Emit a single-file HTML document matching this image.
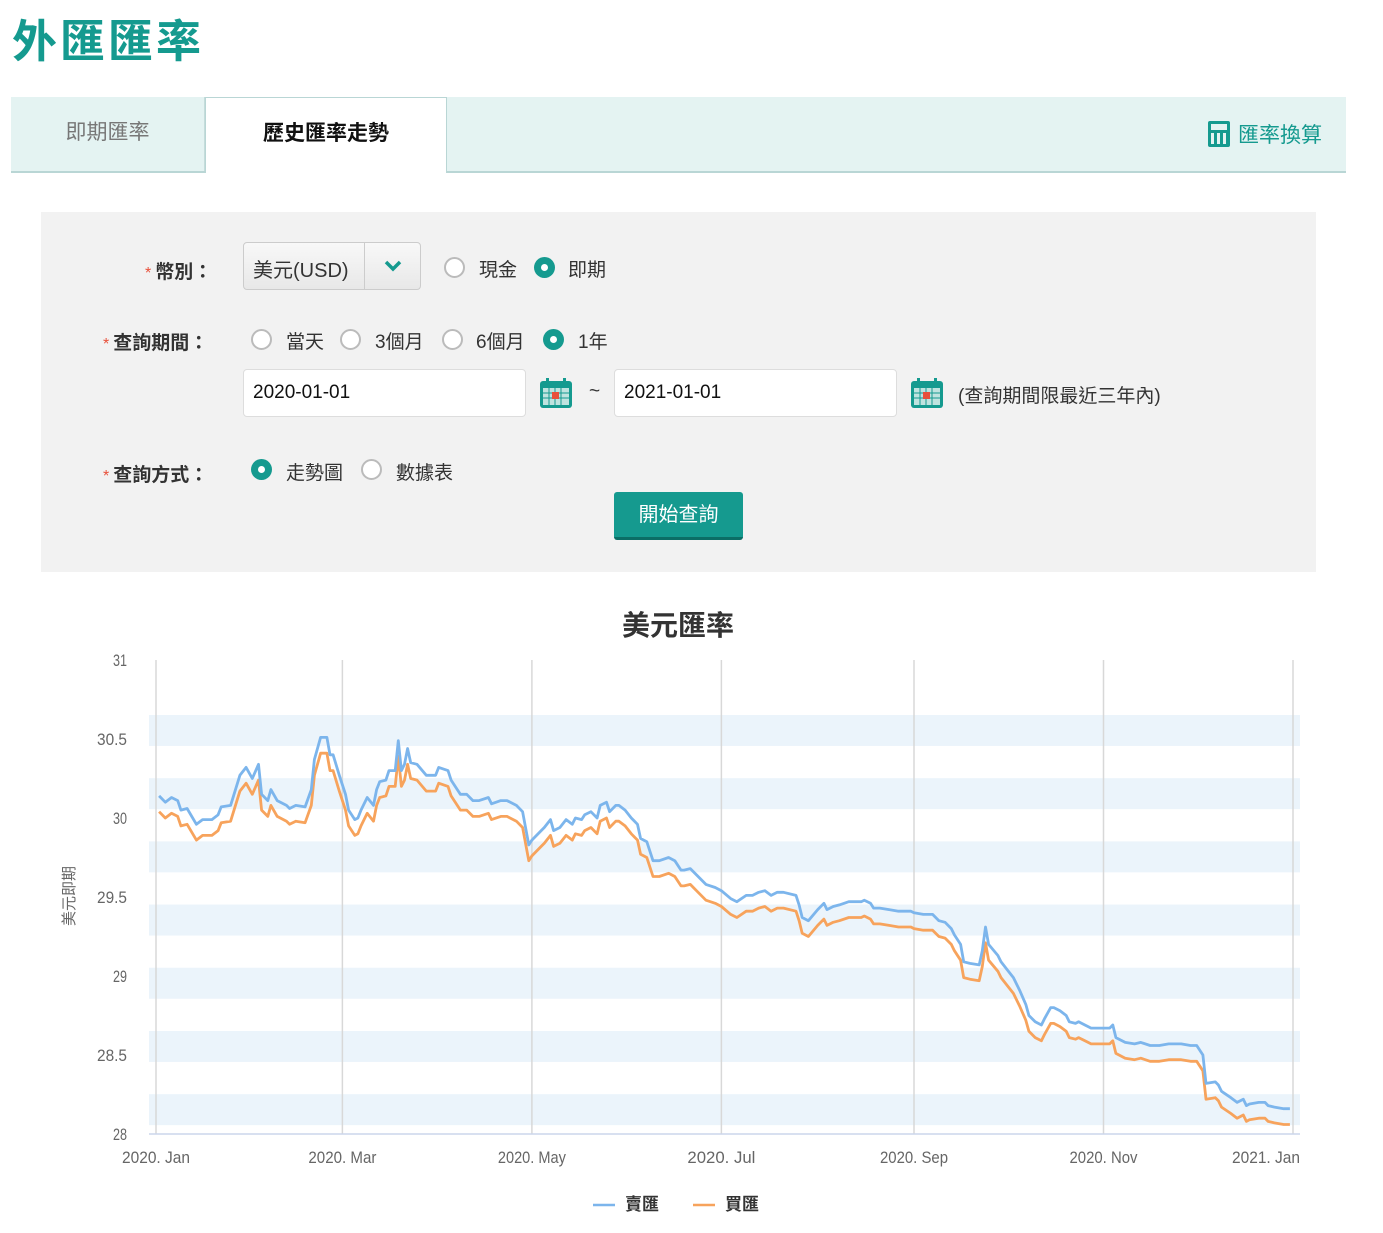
<!DOCTYPE html>
<html><head><meta charset="utf-8">
<style>
*{box-sizing:border-box;margin:0;padding:0}
body{width:1383px;height:1233px;background:#fff;font-family:"Liberation Sans","Noto Sans CJK TC",sans-serif;position:relative;overflow:hidden;color:#333}
.abs{position:absolute}
.title{left:12px;top:5px;font-size:45px;font-weight:bold;color:#159a8f;letter-spacing:3px}
.tabbar{left:11px;top:97px;width:1335px;height:76px;background:#e4f3f2;border-bottom:2px solid #b9d6d5}
.tab1{left:0;top:0;width:194px;height:74px;line-height:72px;text-align:center;font-size:21px;color:#777;border-right:1px solid #c5dcdb}
.tab2{left:194px;top:0;width:242px;height:76px;background:#fff;border:1px solid #b9d6d5;border-bottom:none;line-height:72px;text-align:center;font-size:21px;font-weight:bold;color:#111}
.conv{right:24px;top:22px;font-size:21px;color:#159a8f}
.panel{left:41px;top:212px;width:1275px;height:360px;background:#f2f2f2}
.lbl{font-size:19px;font-weight:bold;color:#333}
.lbl b{color:#e8503a;font-weight:normal;margin-right:4px;font-size:16px}
.radio{width:21px;height:21px;border-radius:50%;border:2px solid #bbb;background:#fff}
.radio.on{border:none;background:#159a8f}
.radio.on::after{content:"";position:absolute;left:7px;top:7px;width:7px;height:7px;border-radius:50%;background:#fff}
.rt{font-size:19px;color:#333}
.inp{background:#fff;border:1px solid #ddd;border-radius:4px;font-size:19px;color:#111;padding-left:9px;line-height:46px}
.cal{width:34px;height:32px}
.btn{left:614px;top:492px;width:129px;height:48px;background:#159a8f;border-bottom:3px solid #0b6e66;border-radius:3px;color:#fff;font-size:20px;text-align:center;line-height:46px}
.ctitle{left:578px;width:200px;top:604px;text-align:center;font-size:28px;font-weight:bold;color:#333}
</style></head><body>
<div class="abs title">外匯匯率</div>
<div class="abs tabbar">
  <div class="abs tab1">即期匯率</div>
  <div class="abs tab2">歷史匯率走勢</div>
  <div class="abs conv"><span style="display:inline-block;width:22px;height:26px;background:#159a8f;border-radius:2px;vertical-align:-5px;margin-right:8px;position:relative"><span style="position:absolute;left:3px;top:3px;width:16px;height:6px;background:#e4f3f2"></span><span style="position:absolute;left:3px;top:12px;width:16px;height:11px;background:repeating-linear-gradient(90deg,#e4f3f2 0 3px,transparent 3px 6px)"></span></span>匯率換算</div>
</div>
<div class="abs panel"></div>
<div class="abs lbl" style="left:145px;top:257px"><b>*</b>幣別：</div>
<div class="abs" style="left:243px;top:242px;width:178px;height:48px;border:1px solid #ccc;border-radius:4px;background:linear-gradient(#f8f8f8,#e8e8e8)">
  <span class="abs" style="left:9px;top:11px;font-size:20px;color:#333">美元(USD)</span>
  <span class="abs" style="left:120px;top:0;width:1px;height:46px;background:#ccc"></span>
  <svg class="abs" style="left:139px;top:16px" width="20" height="14" viewBox="0 0 20 14"><path d="M3 3 L10 10 L17 3" fill="none" stroke="#159a8f" stroke-width="3.5"/></svg>
</div>
<div class="abs radio" style="left:444px;top:257px"></div><div class="abs rt" style="left:479px;top:255px">現金</div>
<div class="abs radio on" style="left:534px;top:257px"></div><div class="abs rt" style="left:568px;top:255px">即期</div>

<div class="abs lbl" style="left:103px;top:328px"><b>*</b>查詢期間：</div>
<div class="abs radio" style="left:251px;top:329px"></div><div class="abs rt" style="left:286px;top:327px">當天</div>
<div class="abs radio" style="left:340px;top:329px"></div><div class="abs rt" style="left:375px;top:327px">3個月</div>
<div class="abs radio" style="left:442px;top:329px"></div><div class="abs rt" style="left:476px;top:327px">6個月</div>
<div class="abs radio on" style="left:543px;top:329px"></div><div class="abs rt" style="left:578px;top:327px">1年</div>

<div class="abs inp" style="left:243px;top:369px;width:283px;height:48px">2020-01-01</div>
<svg class="abs cal" style="left:539px;top:377px" viewBox="0 0 34 32"><rect x="1" y="4" width="32" height="27" rx="3" fill="#159a8f"/><rect x="4" y="11" width="26" height="17" fill="#bfe3df"/><path d="M4 16h26M4 21h26M10 11v17M16 11v17M22 11v17" stroke="#159a8f"/><rect x="13" y="15" width="7" height="7" fill="#e8503a"/><rect x="7" y="1" width="3" height="6" fill="#159a8f"/><rect x="24" y="1" width="3" height="6" fill="#159a8f"/></svg>
<div class="abs rt" style="left:589px;top:381px">~</div>
<div class="abs inp" style="left:614px;top:369px;width:283px;height:48px">2021-01-01</div>
<svg class="abs cal" style="left:910px;top:377px" viewBox="0 0 34 32"><rect x="1" y="4" width="32" height="27" rx="3" fill="#159a8f"/><rect x="4" y="11" width="26" height="17" fill="#bfe3df"/><path d="M4 16h26M4 21h26M10 11v17M16 11v17M22 11v17" stroke="#159a8f"/><rect x="13" y="15" width="7" height="7" fill="#e8503a"/><rect x="7" y="1" width="3" height="6" fill="#159a8f"/><rect x="24" y="1" width="3" height="6" fill="#159a8f"/></svg>
<div class="abs rt" style="left:958px;top:381px">(查詢期間限最近三年內)</div>

<div class="abs lbl" style="left:103px;top:460px"><b>*</b>查詢方式：</div>
<div class="abs radio on" style="left:251px;top:459px"></div><div class="abs rt" style="left:286px;top:458px">走勢圖</div>
<div class="abs radio" style="left:361px;top:459px"></div><div class="abs rt" style="left:396px;top:458px">數據表</div>
<div class="abs btn">開始查詢</div>

<div class="abs ctitle">美元匯率</div>
<svg class="abs" style="left:0;top:0" width="1383" height="1233" id="chart"></svg>

<script>
const days=[1,3,5,7,8,10,13,15,18,20,21,24,27,29,31,33,34,36,37,39,42,43,45,48,50,51,53,55,56,57,59,61,62,64,65,66,68,70,71,72,74,75,77,78,79,80,81,82,84,87,90,91,94,95,97,98,100,102,104,107,108,111,113,116,118,120,121,124,125,127,128,130,132,134,135,137,138,140,142,143,145,146,148,149,151,153,155,156,158,160,162,165,167,169,170,172,174,177,180,182,185,187,190,192,194,196,198,200,202,206,207,208,210,213,215,216,218,220,223,227,228,230,231,233,236,239,243,244,247,250,252,254,256,257,259,260,262,265,266,267,268,271,272,274,276,278,280,281,283,285,286,288,289,291,293,294,296,297,299,301,304,307,308,309,312,315,317,320,323,326,330,333,335,337,338,341,342,343,346,348,350,351,352,355,357,358,360,363,365];
const sellRates=[30.14,30.10,30.13,30.11,30.05,30.06,29.96,29.99,29.99,30.02,30.07,30.08,30.27,30.32,30.25,30.34,30.15,30.11,30.18,30.11,30.08,30.06,30.08,30.07,30.18,30.37,30.51,30.51,30.40,30.40,30.27,30.15,30.05,29.99,30.00,30.05,30.13,30.08,30.18,30.23,30.24,30.30,30.30,30.49,30.30,30.34,30.44,30.35,30.34,30.27,30.27,30.32,30.30,30.24,30.18,30.15,30.15,30.11,30.11,30.13,30.09,30.11,30.11,30.08,30.04,29.83,29.86,29.92,29.94,29.99,29.92,29.94,29.99,29.96,30.00,29.99,30.02,30.04,30.00,30.08,30.10,30.04,30.08,30.08,30.05,30.00,29.96,29.87,29.85,29.73,29.73,29.75,29.73,29.67,29.67,29.68,29.64,29.58,29.56,29.54,29.49,29.47,29.51,29.51,29.53,29.54,29.51,29.53,29.53,29.51,29.45,29.37,29.35,29.42,29.46,29.42,29.44,29.45,29.47,29.47,29.48,29.46,29.43,29.43,29.42,29.41,29.41,29.40,29.39,29.39,29.35,29.34,29.30,29.26,29.20,29.09,29.08,29.07,29.16,29.31,29.20,29.13,29.09,29.04,28.99,28.91,28.82,28.75,28.71,28.69,28.73,28.80,28.80,28.78,28.75,28.71,28.70,28.71,28.69,28.67,28.67,28.67,28.69,28.61,28.58,28.57,28.58,28.56,28.56,28.57,28.57,28.56,28.56,28.50,28.32,28.33,28.31,28.27,28.23,28.20,28.22,28.18,28.19,28.20,28.20,28.18,28.17,28.16,28.16];
const buyRates=[30.04,30.00,30.03,30.01,29.95,29.96,29.86,29.89,29.89,29.92,29.97,29.98,30.17,30.22,30.15,30.24,30.05,30.01,30.08,30.01,29.98,29.96,29.98,29.97,30.08,30.27,30.41,30.41,30.30,30.30,30.17,30.05,29.95,29.89,29.90,29.95,30.03,29.98,30.08,30.13,30.14,30.20,30.20,30.39,30.20,30.24,30.34,30.25,30.24,30.17,30.17,30.22,30.20,30.14,30.08,30.05,30.05,30.01,30.01,30.03,29.99,30.01,30.01,29.98,29.94,29.73,29.76,29.82,29.84,29.89,29.82,29.84,29.89,29.86,29.90,29.89,29.92,29.94,29.90,29.98,30.00,29.94,29.98,29.98,29.95,29.90,29.86,29.77,29.75,29.63,29.63,29.65,29.63,29.57,29.57,29.58,29.54,29.48,29.46,29.44,29.39,29.37,29.41,29.41,29.43,29.44,29.41,29.43,29.43,29.41,29.35,29.27,29.25,29.32,29.36,29.32,29.34,29.35,29.37,29.37,29.38,29.36,29.33,29.33,29.32,29.31,29.31,29.30,29.29,29.29,29.25,29.24,29.20,29.16,29.10,28.99,28.98,28.97,29.06,29.21,29.10,29.03,28.99,28.94,28.89,28.81,28.72,28.65,28.61,28.59,28.63,28.70,28.70,28.68,28.65,28.61,28.60,28.61,28.59,28.57,28.57,28.57,28.59,28.51,28.48,28.47,28.48,28.46,28.46,28.47,28.47,28.46,28.46,28.40,28.22,28.23,28.21,28.17,28.13,28.10,28.12,28.08,28.09,28.10,28.10,28.08,28.07,28.06,28.06];
const yTicks=[28,28.5,29,29.5,30,30.5,31];
const yTickLabels=["28","28.5","29","29.5","30","30.5","31"];
const xTickDays=[0,60,121,182,244,305,366];
const xTickLabels=["2020. Jan","2020. Mar","2020. May","2020. Jul","2020. Sep","2020. Nov","2021. Jan"];
const bandStarts=[30.652,30.252,29.852,29.452,29.052,28.652,28.252];
const bandSize=0.196;

const NS="http://www.w3.org/2000/svg";
const svg=document.getElementById('chart');
const X0=149,X1=1300,Y0=660,Y1=1134;
const xs=d=>156+d*(1293-156)/366;
const ys=v=>Y1-(v-28)*(Y1-Y0)/3;
function mk(tag,attrs){const e=document.createElementNS(NS,tag);for(const k in attrs)e.setAttribute(k,attrs[k]);svg.appendChild(e);return e;}
bandStarts.forEach(b=>{
  const r=mk('rect',{x:X0,y:ys(b),width:X1-X0,height:ys(b-bandSize)-ys(b),fill:'#ebf4fb'});
  
  
});
xTickDays.forEach((d,i)=>{
  const l=mk('line',{x1:xs(d),x2:xs(d),y1:Y0,y2:Y1,stroke:'#d8d8d8','stroke-width':1.5});
  
  
  const last=i===xTickDays.length-1;
  const t=mk('text',{x:last?1300:xs(d),y:1163,'text-anchor':last?'end':'middle','font-size':17,fill:'#666','font-family':'Liberation Sans, sans-serif',textLength:68,lengthAdjust:'spacingAndGlyphs'});
  t.textContent=xTickLabels[i];
  
  
});
mk('line',{x1:X0,x2:X1,y1:Y1,y2:Y1,stroke:'#ccd6eb','stroke-width':1.5});
yTicks.forEach((v,i)=>{
  const t=mk('text',{x:127,y:ys(v)+6,'text-anchor':'end','font-size':17,fill:'#666','font-family':'Liberation Sans, sans-serif',textLength:yTickLabels[i].length>2?30:14,lengthAdjust:'spacingAndGlyphs'});
  t.textContent=yTickLabels[i];
  
  
});
const yt=mk('text',{x:0,y:0,transform:'translate(74,896) rotate(-90)','text-anchor':'middle','font-size':15,fill:'#666','font-family':'Liberation Sans, Noto Sans CJK TC, sans-serif'});
yt.textContent='美元即期';


function line(arr,color,name){
  const d=arr.map((v,i)=>(i?'L':'M')+xs(days[i]).toFixed(1)+' '+ys(v).toFixed(1)).join(' ');
  const p=mk('path',{d:d,fill:'none',stroke:color,'stroke-width':2.8,'stroke-linejoin':'round'});
  
  
}
line(buyRates,'#f7a35c','buy-rate-line');
line(sellRates,'#7cb5ec','sell-rate-line');
[[593,'#7cb5ec','賣匯','legend-sell'],[693,'#f7a35c','買匯','legend-buy']].forEach(a=>{
  const l=mk('line',{x1:a[0],x2:a[0]+22,y1:1205,y2:1205,stroke:a[1],'stroke-width':2.5});
  
  
  const t=mk('text',{x:a[0]+32,y:1210,'font-size':17,'font-weight':'bold',fill:'#333','font-family':'Liberation Sans, Noto Sans CJK TC, sans-serif'});
  t.textContent=a[2];
  
  
});
</script>
</body></html>
